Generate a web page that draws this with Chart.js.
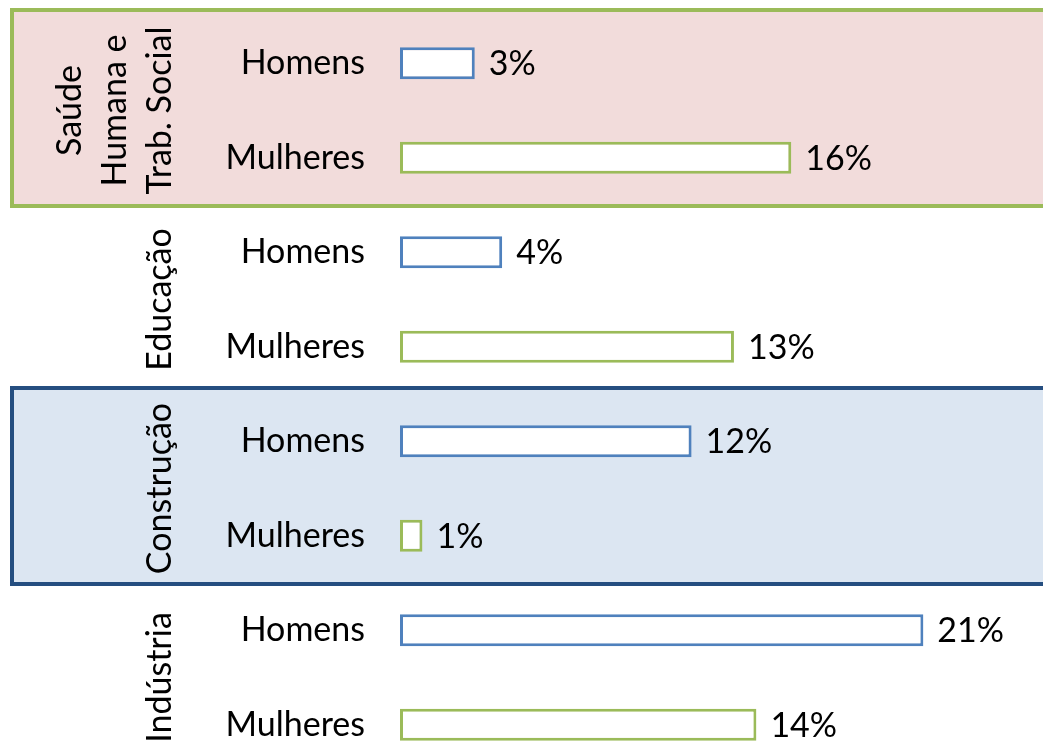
<!DOCTYPE html>
<html>
<head>
<meta charset="utf-8">
<script src="https://cdn.jsdelivr.net/npm/chart.js@4"></script>
<style>
  html, body { margin: 0; padding: 0; background: #ffffff; overflow: hidden; }
  #wrap { position: relative; width: 1043px; height: 790px; }
</style>
</head>
<body>
<div id="wrap"><canvas id="c"></canvas></div>
<script>
// Row labels (y-axis categories)
const rowLabels = ['Homens', 'Mulheres', 'Homens', 'Mulheres', 'Homens', 'Mulheres', 'Homens', 'Mulheres'];
// Sector groups: name lines and the rows they span
const sectorNames = [['Saúde', 'Humana e', 'Trab. Social'], ['Educação'], ['Construção'], ['Indústria']];
const sectorRows = [[0, 1], [2, 3], [4, 5], [6, 7]];
// Share of employment (%)
const shareValues = [3.0, 15.7, 4.1, 13.4, 11.7, 0.9, 21.0, 14.3];
// Which rows are men (blue) vs women (green)
const rowSex = ['H', 'M', 'H', 'M', 'H', 'M', 'H', 'M'];
// Highlighted sectors (index into sectorNames)
const highlightSectors = [0, 2];

const FONT = 'Lato, "Open Sans", sans-serif';
const FS = 34;
const BLUE = '#4F81BD', GREEN = '#9BBB59';

const boxPlugin = {
  id: 'boxes',
  beforeDraw(chart) {
    const ctx = chart.ctx, y = chart.scales.y;
    const step = y.getPixelForValue(1) - y.getPixelForValue(0);
    const styles = {
      0: { fill: '#F2DCDB', stroke: '#9BBB59' },
      2: { fill: '#DCE6F2', stroke: '#254E80' }
    };
    highlightSectors.forEach(si => {
      const rows = sectorRows[si];
      const top = y.getPixelForValue(rows[0]) - step / 2 - 6;
      const bot = y.getPixelForValue(rows[rows.length - 1]) + step / 2 + 1;
      const st = styles[si];
      ctx.save();
      ctx.fillStyle = st.fill;
      ctx.strokeStyle = st.stroke;
      ctx.lineWidth = 4;
      ctx.fillRect(12, top, chart.width + 20, bot - top);
      ctx.strokeRect(12, top, chart.width + 20, bot - top);
      ctx.restore();
    });
  },
  afterDraw(chart) {
    const ctx = chart.ctx, y = chart.scales.y;
    ctx.save();
    ctx.fillStyle = '#000';
    ctx.font = FS + 'px ' + FONT;
    ctx.textAlign = 'center';
    ctx.textBaseline = 'middle';
    sectorNames.forEach((lines, si) => {
      const rows = sectorRows[si];
      const cy = (y.getPixelForValue(rows[0]) + y.getPixelForValue(rows[rows.length - 1])) / 2;
      const lh = 45;
      const lastX = 160;
      lines.forEach((t, li) => {
        const cx = lastX - (lines.length - 1 - li) * lh;
        ctx.save();
        ctx.translate(cx, cy);
        ctx.rotate(-Math.PI / 2);
        ctx.fillText(t, 0, 0);
        ctx.restore();
      });
    });
    // data labels
    const meta = chart.getDatasetMeta(0);
    ctx.textAlign = 'left';
    meta.data.forEach((bar, i) => {
      ctx.fillText(Math.round(shareValues[i]) + '%', bar.x + 14, bar.y + 1);
    });
    ctx.restore();
  }
};

new Chart(document.getElementById('c'), {
  type: 'bar',
  data: {
    labels: rowLabels,
    datasets: [{
      data: shareValues,
      backgroundColor: '#ffffff',
      borderColor: rowSex.map(s => s === 'H' ? BLUE : GREEN),
      borderWidth: 3,
      borderSkipped: false,
      categoryPercentage: 1,
      barPercentage: 0.34
    }]
  },
  options: {
    indexAxis: 'y',
    responsive: true,
    maintainAspectRatio: false,
    animation: false,
    layout: { padding: { top: 16, bottom: 18, left: 0, right: 0 } },
    plugins: { legend: { display: false }, tooltip: { enabled: false } },
    scales: {
      x: { display: false, min: 0, max: 25.8 },
      y: {
        grid: { display: true, drawOnChartArea: false, drawTicks: true, tickLength: 35, color: 'rgba(0,0,0,0)' },
        border: { display: false },
        ticks: { color: '#000', padding: 0, autoSkip: false, font: { family: FONT, size: FS } },
        afterFit(scale) { scale.width = 400; scale.paddingTop = 0; scale.paddingBottom = 0; }
      }
    }
  },
  plugins: [boxPlugin]
});
</script>
</body>
</html>
